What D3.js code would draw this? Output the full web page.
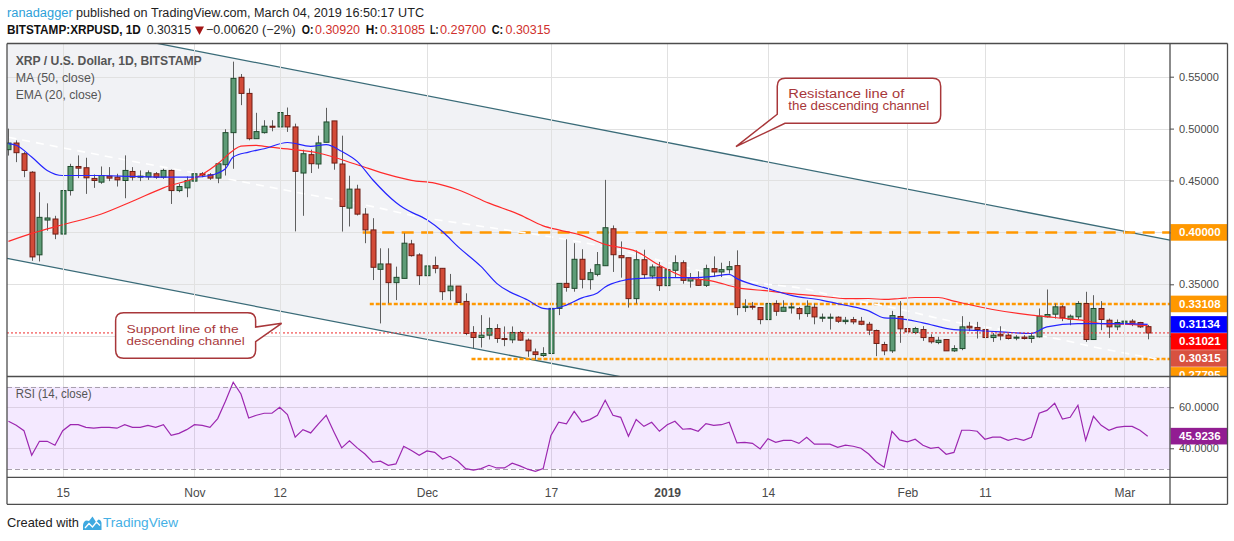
<!DOCTYPE html>
<html>
<head>
<meta charset="utf-8">
<script src="https://cdn.jsdelivr.net/npm/d3@7"></script>
<style>
  body { margin: 0; background: #fff; }
  svg { display: block; font-family: "Liberation Sans", Arial, sans-serif; }
</style>
</head>
<body>
<svg id="chart" width="1234" height="541"></svg>
<script>
// daily candles, first one is startDay, one per calendar day
const startDay = "2018-10-08";
const opens = [0.4797,0.4861,0.4758,0.4580,0.3784,0.4119,0.4129,0.3984,0.4403,0.4635,
  0.4623,0.4520,0.4484,0.4542,0.4532,0.4500,0.4587,0.4532,0.4535,0.4565,
  0.4532,0.4597,0.4403,0.4429,0.4494,0.4565,0.4555,0.4523,0.4652,0.4961,
  0.5494,0.5339,0.4903,0.4961,0.5023,0.5016,0.5126,0.5016,0.4572,0.4749,
  0.4659,0.4868,0.5074,0.4659,0.4234,0.4417,0.4176,0.4024,0.3644,0.3696,
  0.3516,0.3557,0.3889,0.3783,0.3583,0.3680,0.3654,0.3438,0.3483,0.3335,
  0.3036,0.2988,0.3010,0.3074,0.2978,0.2965,0.3036,0.2962,0.2849,0.2814,
  0.2833,0.3268,0.3509,0.3461,0.3741,0.3545,0.3596,0.3679,0.4035,0.3776,
  0.3756,0.3362,0.3737,0.3580,0.3667,0.3487,0.3635,0.3708,0.3532,0.3545,
  0.3490,0.3651,0.3619,0.3641,0.3680,0.3276,0.3289,0.3276,0.3160,0.3314,
  0.3240,0.3276,0.3266,0.3218,0.3279,0.3173,0.3176,0.3183,0.3141,0.3160,
  0.3144,0.3115,0.3055,0.2920,0.2859,0.3190,0.3074,0.3035,0.3064,0.2987,
  0.2939,0.2968,0.2859,0.2881,0.3096,0.3084,0.3064,0.2987,0.3019,0.3010,
  0.2981,0.2991,0.2978,0.2994,0.3187,0.3212,0.3283,0.3164,0.3187,0.3315,
  0.2968,0.3267,0.3154,0.3090,0.3125,0.3145,0.3132,0.3092];
const highs = [0.5000,0.4887,0.4774,0.4590,0.4387,0.4280,0.4160,0.4661,0.4661,0.4742,
  0.4719,0.4558,0.4635,0.4629,0.4565,0.4742,0.4629,0.4597,0.4597,0.4581,
  0.4613,0.4606,0.4468,0.4539,0.4613,0.4581,0.4571,0.4668,0.4994,0.5645,
  0.5526,0.5387,0.5152,0.5081,0.5081,0.5258,0.5203,0.5048,0.4797,0.4797,
  0.4932,0.5200,0.5074,0.4932,0.4546,0.4459,0.4234,0.4137,0.3847,0.3847,
  0.3670,0.3992,0.3928,0.3799,0.3751,0.3767,0.3654,0.3600,0.3483,0.3413,
  0.3097,0.3203,0.3180,0.3116,0.3094,0.3094,0.3052,0.2978,0.2881,0.2894,
  0.3364,0.3509,0.3934,0.3896,0.3838,0.3650,0.3811,0.4506,0.4067,0.3913,
  0.3756,0.3827,0.3833,0.3692,0.3715,0.3641,0.3779,0.3731,0.3609,0.3625,
  0.3689,0.3769,0.3708,0.3724,0.3827,0.3356,0.3330,0.3276,0.3394,0.3346,
  0.3346,0.3321,0.3282,0.3346,0.3314,0.3218,0.3218,0.3192,0.3186,0.3186,
  0.3186,0.3138,0.3064,0.2946,0.3244,0.3338,0.3097,0.3090,0.3097,0.3019,
  0.2994,0.2968,0.2913,0.3193,0.3138,0.3138,0.3084,0.3032,0.3096,0.3026,
  0.3010,0.3010,0.3026,0.3267,0.3450,0.3315,0.3299,0.3209,0.3338,0.3428,
  0.3395,0.3338,0.3170,0.3161,0.3235,0.3164,0.3138,0.31085];
const lows = [0.4740,0.4677,0.4532,0.3726,0.3720,0.4016,0.3935,0.3887,0.4355,0.4523,
  0.4371,0.4429,0.4468,0.4494,0.4442,0.4329,0.4500,0.4494,0.4506,0.4516,
  0.4516,0.4274,0.4387,0.4339,0.4484,0.4532,0.4506,0.4474,0.4548,0.4613,
  0.5226,0.4887,0.4903,0.4952,0.4974,0.4984,0.4968,0.4010,0.4160,0.4572,
  0.4614,0.4868,0.4604,0.4008,0.4057,0.4163,0.3896,0.3541,0.3123,0.3316,
  0.3348,0.3557,0.3767,0.3493,0.3532,0.3606,0.3348,0.3348,0.3326,0.3010,
  0.2881,0.2891,0.2968,0.2936,0.2904,0.2933,0.2955,0.2801,0.2775,0.2801,
  0.2817,0.3203,0.3429,0.3429,0.3461,0.3449,0.3577,0.3679,0.3619,0.3564,
  0.3276,0.3314,0.3554,0.3554,0.3436,0.3449,0.3564,0.3506,0.3468,0.3487,
  0.3474,0.3570,0.3570,0.3603,0.3202,0.3234,0.3256,0.3115,0.3160,0.3196,
  0.3240,0.3218,0.3160,0.3186,0.3115,0.3138,0.3064,0.3128,0.3115,0.3115,
  0.3106,0.3010,0.2808,0.2817,0.2839,0.2936,0.2936,0.3019,0.2955,0.2929,
  0.2923,0.2859,0.2849,0.2865,0.3048,0.2978,0.2978,0.2945,0.2961,0.2968,
  0.2961,0.2968,0.2936,0.2987,0.3180,0.3170,0.3145,0.3106,0.3164,0.2945,
  0.2968,0.3058,0.2984,0.3058,0.3097,0.3097,0.3080,0.2970];
const closes = [0.4861,0.4768,0.4597,0.3764,0.4145,0.4139,0.3984,0.4403,0.4635,0.4619,
  0.4526,0.4500,0.4548,0.4523,0.4506,0.4597,0.4532,0.4542,0.4574,0.4532,
  0.4597,0.4403,0.4442,0.4500,0.4565,0.4552,0.4523,0.4661,0.4961,0.5484,
  0.5339,0.4903,0.4971,0.5023,0.5013,0.5155,0.5016,0.4588,0.4758,0.4662,
  0.4862,0.5064,0.4668,0.4250,0.4417,0.4176,0.4024,0.3664,0.3696,0.3516,
  0.3567,0.3896,0.3776,0.3583,0.3677,0.3654,0.3429,0.3483,0.3326,0.3026,
  0.2988,0.3010,0.3074,0.2978,0.2968,0.3036,0.2962,0.2859,0.2823,0.2833,
  0.3268,0.3509,0.3470,0.3741,0.3548,0.3612,0.3689,0.4045,0.3785,0.3756,
  0.3362,0.3737,0.3593,0.3667,0.3487,0.3641,0.3708,0.3538,0.3564,0.3490,
  0.3651,0.3619,0.3641,0.3670,0.3276,0.3289,0.3279,0.3160,0.3314,0.3240,
  0.3279,0.3282,0.3218,0.3289,0.3186,0.3183,0.3183,0.3144,0.3154,0.3138,
  0.3115,0.3058,0.2930,0.2859,0.3199,0.3071,0.3042,0.3074,0.2987,0.2946,
  0.2961,0.2859,0.2881,0.3090,0.3080,0.3064,0.2987,0.3010,0.3003,0.2978,
  0.2991,0.2978,0.3000,0.3193,0.3209,0.3283,0.3177,0.3193,0.3315,0.2968,
  0.3267,0.3161,0.3090,0.3132,0.3145,0.3125,0.3090,0.30315];
const rsiVals = [53.2,51.2,48.6,36.6,43.4,43.4,41.5,48.6,51.5,51.5,
  50.2,49.8,50.2,50.2,49.8,51.5,50.2,50.2,51.2,50.2,
  51.5,46.3,47.3,49.1,51.5,51.2,50.2,54.5,62.9,72.2,
  66.5,54.8,56.1,57.1,57.1,60.0,56.4,45.4,49.1,47.5,
  51.9,56.1,48.0,40.2,43.7,40.2,37.2,33.2,33.7,31.7,
  32.4,41.0,38.9,36.6,38.7,38.0,34.8,36.1,33.7,30.1,
  29.4,30.1,31.7,30.4,30.4,32.7,31.4,29.8,28.8,30.1,
  46.3,52.7,51.9,58.0,52.8,54.0,56.1,63.4,56.1,55.1,
  45.9,54.0,50.7,52.7,48.3,51.5,53.2,49.3,49.6,48.3,
  52.0,51.2,51.5,52.7,42.6,42.9,42.4,39.7,44.7,42.9,
  43.9,43.9,42.4,45.4,42.0,42.0,42.0,40.5,41.5,41.0,
  40.0,37.2,33.3,30.7,48.3,44.1,43.1,44.4,41.5,40.0,
  40.5,37.1,38.0,48.8,48.8,48.3,44.4,45.4,45.4,43.9,
  44.9,43.9,45.4,57.1,58.5,62.0,54.3,55.1,61.0,43.9,
  55.6,51.2,48.8,50.2,50.7,50.7,48.8,45.9236];

// MA (50)
const maDates = ["2018-10-08","2018-10-11","2018-10-15","2018-10-20","2018-10-24","2018-10-28",
  "2018-11-02","2018-11-04","2018-11-06","2018-11-07","2018-11-09","2018-11-10","2018-11-13","2018-11-17",
  "2018-11-22","2018-11-26","2018-11-29","2018-12-02","2018-12-05","2018-12-09","2018-12-13","2018-12-16",
  "2018-12-18","2018-12-21","2018-12-24","2018-12-28","2018-12-31","2019-01-03","2019-01-07","2019-01-10",
  "2019-01-14","2019-01-17","2019-01-21","2019-01-24","2019-01-27","2019-01-29","2019-01-31","2019-02-02",
  "2019-02-05","2019-02-07","2019-02-12","2019-02-17","2019-02-20","2019-02-24","2019-02-26","2019-03-01","2019-03-04"];
const maVals = [0.3913,0.3990,0.4074,0.4177,0.4300,0.4429,0.4558,0.4661,0.4790,0.4832,0.4839,0.4829,
  0.4804,0.4765,0.4652,0.4556,0.4501,0.4475,0.4411,0.4282,0.4169,0.4063,0.4024,0.3971,0.3885,0.3817,
  0.3683,0.3577,0.3529,0.3468,0.3436,0.3410,0.3385,0.3362,0.3363,0.3354,0.3363,0.3373,0.3373,0.3338,
  0.3257,0.3203,0.3180,0.3148,0.3122,0.3116,0.31021];

// EMA (20)
const emaDates = ["2018-10-08","2018-10-09","2018-10-11","2018-10-13","2018-10-15","2018-10-20","2018-10-24","2018-10-28",
  "2018-11-01","2018-11-03","2018-11-05","2018-11-06","2018-11-08","2018-11-10","2018-11-13","2018-11-16","2018-11-18",
  "2018-11-20","2018-11-22","2018-11-24","2018-11-27","2018-11-28","2018-12-01","2018-12-03","2018-12-05","2018-12-08",
  "2018-12-10","2018-12-14","2018-12-16","2018-12-17","2018-12-19","2018-12-21","2018-12-23","2018-12-24","2018-12-26",
  "2018-12-28","2019-01-01","2019-01-04","2019-01-07","2019-01-09","2019-01-10","2019-01-14","2019-01-17","2019-01-21",
  "2019-01-24","2019-01-27","2019-01-29","2019-01-31","2019-02-03","2019-02-07","2019-02-09","2019-02-13","2019-02-17",
  "2019-02-19","2019-02-23","2019-02-26","2019-03-01","2019-03-04"];
const emaVals = [0.4855,0.4839,0.4726,0.4597,0.4548,0.4548,0.4539,0.4532,0.4532,0.4548,0.4613,0.4726,
  0.4774,0.4806,0.4866,0.4829,0.4845,0.4781,0.4684,0.4507,0.4288,0.4234,0.4121,0.4008,0.3863,0.3670,
  0.3509,0.3348,0.3268,0.3261,0.3300,0.3369,0.3417,0.3474,0.3532,0.3555,0.3564,0.3564,0.3577,0.3596,
  0.3555,0.3458,0.3394,0.3346,0.3298,0.3244,0.3177,0.3170,0.3129,0.3064,0.3058,0.3042,0.3026,0.3090,
  0.3122,0.3122,0.3122,0.31134];

// faint white dashed curve
const curveDates = ["2018-10-08","2018-10-30","2018-11-06","2018-11-16","2018-11-24","2018-12-01","2018-12-04",
  "2018-12-22","2019-01-13","2019-01-19","2019-01-22","2019-01-31","2019-02-07","2019-02-15","2019-02-20",
  "2019-02-26","2019-03-06"];
const curveVals = [0.4916,0.4601,0.4504,0.4360,0.4248,0.4136,0.4103,0.3890,0.3510,0.3452,0.3397,0.3260,
  0.3139,0.3043,0.2979,0.2882,0.2770];

// descending channel anchors
const resDates = ["2018-10-27T03:00", "2019-03-06T18:00"];
const resPrices = [0.5822, 0.3927];
const supDates = ["2018-10-07T18:30", "2018-12-20T18:00"];
const supPrices = [0.3750, 0.2685];

// horizontal levels
const levelPrices = [0.40, 0.33108, 0.27795];
const levelStarts = ["2018-11-22T17:00", "2018-11-23T15:00", "2018-12-06T18:00"];
const lastPrice = 0.30315;

// price scale labels
const tickPrices = [0.55, 0.50, 0.45, 0.40, 0.35, 0.30];
const markValues = [0.40000, 0.33108, 0.31134, 0.31021, 0.30315, 0.27795];
const markColors = ["#ff9800", "#ff9800", "#0000ff", "#ff0000", "#d85140", "#ff9800"];
const rsiTicks = [60, 40];
const rsiBands = [70, 30];
const rsiLast = 45.9236;

const tickDates = ["2018-10-15","2018-11-01","2018-11-12","2018-12-01","2018-12-17",
  "2019-01-01","2019-01-14","2019-02-01","2019-02-11","2019-03-01"];
const tickLabels = ["15","Nov","12","Dec","17","2019","14","Feb","11","Mar"];

const calloutTexts = [["Resistance line of", "the descending channel"], ["Support line of the", "descending channel"]];
const calloutTips = [["2019-01-09T21:00", 0.4826], ["2018-11-12T06:00", 0.3124]];

// ---------------------------------------------------------------
const svg = d3.select('#chart');
const L = 7, R = 1170, RR = 1227.5;
const mainTop = 43.5, mainBot = 376.5, rsiBot = 477.3, axisBot = 504.3;
const day = 864e5;
const toDate = s => new Date(Date.parse(s.length > 10 ? s + ":00Z" : s + "T00:00Z"));
const t0 = toDate(startDay).getTime();

const candles = opens.map((o, i) => ({
  date: new Date(t0 + i * day), o, h: highs[i], l: lows[i], c: closes[i], rsi: rsiVals[i]
}));

const xScale = d3.scaleUtc()
  .domain([new Date(t0 - 0.187 * day), new Date(t0 + 149.88 * day)])
  .range([L, R]);
const yScale = d3.scaleLinear().domain([0.26118, 0.58198]).range([mainBot, mainTop]);
const rScale = d3.scaleLinear().domain([25.85, 75.02]).range([rsiBot, mainBot]);

const defs = svg.append('defs');
defs.append('clipPath').attr('id', 'clipMain')
  .append('rect').attr('x', L).attr('y', mainTop).attr('width', R - L).attr('height', mainBot - mainTop);
defs.append('clipPath').attr('id', 'clipRsi')
  .append('rect').attr('x', L).attr('y', mainBot).attr('width', R - L).attr('height', rsiBot - mainBot);
defs.append('clipPath').attr('id', 'clipAxis')
  .append('rect').attr('x', R).attr('y', mainTop).attr('width', RR - R).attr('height', mainBot - mainTop);

// header
function htext(x, y, s, len, fill, weight) {
  return svg.append('text').attr('x', x).attr('y', y).text(s)
    .attr('font-size', 12.5).attr('fill', fill).attr('font-weight', weight || 'normal')
    .attr('textLength', len).attr('lengthAdjust', 'spacingAndGlyphs');
}
htext(7, 16.5, 'ranadagger', 65.7, '#2d9fd9');
htext(76, 16.5, 'published on TradingView.com, March 04, 2019 16:50:17 UTC', 348, '#1e1e1e');
htext(7, 34, 'BITSTAMP:XRPUSD, 1D', 133.7, '#111', 'bold');
htext(146.7, 34, '0.30315', 44.3, '#1e1e1e');
svg.append('path').attr('d', 'M195,26.5 L204,26.5 L199.5,35 Z').attr('fill', '#a31515');
htext(206, 34, '\u22120.00620 (\u22122%)', 89.7, '#1e1e1e');
const red = '#d0312d';
htext(301.7, 34, 'O:', 11.7, '#111', 'bold');
htext(315, 34, '0.30920', 45, red);
htext(365.7, 34, 'H:', 12.5, '#111', 'bold');
htext(380, 34, '0.31085', 45, red);
htext(430, 34, 'L:', 8.5, '#111', 'bold');
htext(440, 34, '0.29700', 46, red);
htext(491.7, 34, 'C:', 11.5, '#111', 'bold');
htext(505.5, 34, '0.30315', 45, red);

// main pane
const main = svg.append('g').attr('clip-path', 'url(#clipMain)');

const resP = resDates.map((d, i) => [xScale(toDate(d)), yScale(resPrices[i])]);
const supP = supDates.map((d, i) => [xScale(toDate(d)), yScale(supPrices[i])]);
const extend = (p, x) => p[0][1] + (p[1][1] - p[0][1]) * (x - p[0][0]) / (p[1][0] - p[0][0]);

main.append('polygon')
  .attr('points', [[L, extend(resP, L)], [R, extend(resP, R)], [R, extend(supP, R)], [L, extend(supP, L)]].join(' '))
  .attr('fill', '#f1f2f5');

// grid
main.append('g').selectAll('line').data(tickPrices).join('line')
  .attr('x1', L).attr('x2', R)
  .attr('y1', d => Math.round(yScale(d)) + 0.5).attr('y2', d => Math.round(yScale(d)) + 0.5)
  .attr('stroke', '#e1e1e1');
svg.append('g').selectAll('line').data(tickDates).join('line')
  .attr('x1', d => Math.round(xScale(toDate(d))) + 0.5).attr('x2', d => Math.round(xScale(toDate(d))) + 0.5)
  .attr('y1', mainTop).attr('y2', mainBot)
  .attr('stroke', '#e1e1e1');

// channel lines
[resP, supP].forEach(p => {
  main.append('line')
    .attr('x1', L).attr('y1', extend(p, L)).attr('x2', R).attr('y2', extend(p, R))
    .attr('stroke', '#3a6b78').attr('stroke-width', 1.3);
});

// orange levels
levelPrices.forEach((v, i) => {
  main.append('line')
    .attr('x1', xScale(toDate(levelStarts[i]))).attr('x2', R)
    .attr('y1', yScale(v)).attr('y2', yScale(v))
    .attr('stroke', '#ff9800').attr('stroke-width', 2.5)
    .attr('stroke-dasharray', i === 0 ? '12,7.5' : '4,2');
});

// white dashed curve
const curveLine = d3.line().x(d => xScale(d[0])).y(d => yScale(d[1])).curve(d3.curveMonotoneX);
main.append('path')
  .attr('d', curveLine(curveDates.map((d, i) => [toDate(d), curveVals[i]])))
  .attr('fill', 'none').attr('stroke', '#ffffff').attr('stroke-width', 1.6)
  .attr('stroke-dasharray', '8,6');

// candles
const cg = main.append('g');
cg.selectAll('line').data(candles).join('line')
  .attr('x1', d => Math.round(xScale(d.date)) + 0.5).attr('x2', d => Math.round(xScale(d.date)) + 0.5)
  .attr('y1', d => yScale(d.h)).attr('y2', d => yScale(d.l))
  .attr('stroke', '#5f5f5f').attr('stroke-width', 1);
cg.selectAll('rect').data(candles).join('rect')
  .attr('x', d => Math.round(xScale(d.date)) - 2)
  .attr('y', d => yScale(Math.max(d.o, d.c)))
  .attr('width', 5)
  .attr('height', d => Math.max(1, Math.abs(yScale(d.o) - yScale(d.c))))
  .attr('fill', d => d.c >= d.o ? '#5e9c77' : '#d24b38')
  .attr('stroke', d => d.c >= d.o ? '#1f4b2d' : '#6e1d14')
  .attr('stroke-width', 1);

// moving averages
main.append('path')
  .attr('d', curveLine(maDates.map((d, i) => [toDate(d), maVals[i]])))
  .attr('fill', 'none').attr('stroke', '#ff2b2b').attr('stroke-width', 1.2);
main.append('path')
  .attr('d', curveLine(emaDates.map((d, i) => [toDate(d), emaVals[i]])))
  .attr('fill', 'none').attr('stroke', '#2525ff').attr('stroke-width', 1.2);

// last price line
main.append('line')
  .attr('x1', L).attr('x2', R).attr('y1', yScale(lastPrice)).attr('y2', yScale(lastPrice))
  .attr('stroke', '#ee2b2b').attr('stroke-dasharray', '2,2');

// legend
const legend = [['XRP / U.S. Dollar, 1D, BITSTAMP', 65, 186, 'bold'], ['MA (50, close)', 82, 79.3, 'normal'], ['EMA (20, close)', 99, 86, 'normal']];
legend.forEach(r => {
  svg.append('text').attr('x', 15.7).attr('y', r[1]).text(r[0])
    .attr('font-size', 13).attr('font-weight', r[3]).attr('fill', '#555')
    .attr('textLength', r[2]).attr('lengthAdjust', 'spacingAndGlyphs');
});

// callouts
const cRed = '#a8373a';
{
  const tx = xScale(toDate(calloutTips[0][0])), ty = yScale(calloutTips[0][1]);
  const x0 = tx + 41.3, y0 = ty - 68.4, x1 = x0 + 163.4, y1 = y0 + 45, r = 8;
  svg.append('path')
    .attr('d', `M${x0 + r},${y0} H${x1 - r} Q${x1},${y0} ${x1},${y0 + r} V${y1 - r} Q${x1},${y1} ${x1 - r},${y1} H${x0 + 7.7} L${tx},${ty} L${x0},${y0 + 36} V${y0 + r} Q${x0},${y0} ${x0 + r},${y0} Z`)
    .attr('fill', '#fff').attr('stroke', cRed).attr('stroke-width', 1.5);
  const lens = [116, 141];
  calloutTexts[0].forEach((s, i) => svg.append('text').attr('x', x0 + 11).attr('y', y0 + 19.4 + i * 12.5)
    .text(s).attr('font-size', 12).attr('fill', cRed)
    .attr('textLength', lens[i]).attr('lengthAdjust', 'spacingAndGlyphs'));
}
{
  const tx = xScale(toDate(calloutTips[1][0])), ty = yScale(calloutTips[1][1]);
  const x1 = tx - 26, x0 = x1 - 140, y0 = ty - 10.6, y1 = y0 + 45.6, r = 8;
  svg.append('path')
    .attr('d', `M${x0 + r},${y0} H${x1 - r} Q${x1},${y0} ${x1},${y0 + r} V${y0 + 14.3} L${tx},${ty} L${x1},${y0 + 29} V${y1 - r} Q${x1},${y1} ${x1 - r},${y1} H${x0 + r} Q${x0},${y1} ${x0},${y1 - r} V${y0 + r} Q${x0},${y0} ${x0 + r},${y0} Z`)
    .attr('fill', '#fff').attr('stroke', cRed).attr('stroke-width', 1.5);
  const lens = [112, 118];
  calloutTexts[1].forEach((s, i) => svg.append('text').attr('x', x0 + 11).attr('y', y0 + 19.8 + i * 12.2)
    .text(s).attr('font-size', 11.5).attr('fill', cRed)
    .attr('textLength', lens[i]).attr('lengthAdjust', 'spacingAndGlyphs'));
}

// RSI pane
const rsiG = svg.append('g').attr('clip-path', 'url(#clipRsi)');
rsiG.append('g').selectAll('line').data(tickDates).join('line')
  .attr('x1', d => Math.round(xScale(toDate(d))) + 0.5).attr('x2', d => Math.round(xScale(toDate(d))) + 0.5)
  .attr('y1', mainBot).attr('y2', rsiBot).attr('stroke', '#e1e1e1');
rsiG.append('rect')
  .attr('x', L).attr('width', R - L)
  .attr('y', rScale(rsiBands[0])).attr('height', rScale(rsiBands[1]) - rScale(rsiBands[0]))
  .attr('fill', 'rgba(153,51,255,0.11)');
rsiG.append('g').selectAll('line').data(rsiTicks).join('line')
  .attr('x1', L).attr('x2', R)
  .attr('y1', d => Math.round(rScale(d)) + 0.5).attr('y2', d => Math.round(rScale(d)) + 0.5)
  .attr('stroke', '#dcd0e4');
rsiG.append('g').selectAll('line').data(rsiBands).join('line')
  .attr('x1', L).attr('x2', R)
  .attr('y1', d => Math.round(rScale(d)) + 0.5).attr('y2', d => Math.round(rScale(d)) + 0.5)
  .attr('stroke', '#a8a0ad').attr('stroke-dasharray', '5,3');
rsiG.append('path')
  .attr('d', d3.line().x(d => xScale(d.date)).y(d => rScale(d.rsi))(candles))
  .attr('fill', 'none').attr('stroke', '#9c27b0').attr('stroke-width', 1.2);
svg.append('text').attr('x', 15.7).attr('y', 398).text('RSI (14, close)')
  .attr('font-size', 12.5).attr('fill', '#555')
  .attr('textLength', 76).attr('lengthAdjust', 'spacingAndGlyphs');

// stacked price marks (computed first so covered tick labels can be skipped)
const marks = markValues.map((v, i) => ({v, color: markColors[i], y: yScale(v)}))
  .sort((a, b) => a.y - b.y);
marks.forEach((m, i) => { if (i > 0 && m.y < marks[i - 1].y + 17) m.y = marks[i - 1].y + 17; });
const covered = v => marks.some(m => Math.abs(m.y - yScale(v)) < 15);

// price axis
const axisFont = g => g.attr('font-family', '"Liberation Sans", Arial, sans-serif').attr('font-size', 11);
svg.append('g').attr('transform', `translate(${R},0)`)
  .call(d3.axisRight(yScale).tickValues(tickPrices).tickFormat(d3.format('.5f')).tickSize(4).tickPadding(5))
  .call(axisFont)
  .call(g => g.select('.domain').remove())
  .call(g => g.selectAll('text').attr('fill', '#4a4a4a'))
  .call(g => g.selectAll('.tick').filter(d => covered(d)).select('text').remove())
  .call(g => g.selectAll('line').attr('stroke', '#4a4a4a'));

const mg = svg.append('g').attr('clip-path', 'url(#clipAxis)');
mg.selectAll('rect').data(marks).join('rect')
  .attr('x', R + 0.5).attr('y', d => d.y - 8.3).attr('width', RR - R - 0.5).attr('height', 16.6)
  .attr('fill', d => d.color);
mg.selectAll('text').data(marks).join('text')
  .attr('x', R + 9).attr('y', d => d.y + 4).text(d => d3.format('.5f')(d.v))
  .attr('font-size', 11.5).attr('font-weight', 'bold').attr('fill', '#fff');

// RSI axis
svg.append('g').attr('transform', `translate(${R},0)`)
  .call(d3.axisRight(rScale).tickValues(rsiTicks).tickFormat(d3.format('.4f')).tickSize(4).tickPadding(5))
  .call(axisFont)
  .call(g => g.select('.domain').remove())
  .call(g => g.selectAll('text').attr('fill', '#4a4a4a'))
  .call(g => g.selectAll('line').attr('stroke', '#4a4a4a'));
svg.append('rect').attr('x', R + 0.5).attr('y', rScale(rsiLast) - 8.3)
  .attr('width', RR - R - 0.5).attr('height', 16.6).attr('fill', '#921d92');
svg.append('text').attr('x', R + 9).attr('y', rScale(rsiLast) + 4).text(d3.format('.4f')(rsiLast))
  .attr('font-size', 11.5).attr('font-weight', 'bold').attr('fill', '#fff');

// time axis
svg.append('g').attr('transform', `translate(0,${rsiBot})`)
  .call(d3.axisBottom(xScale).tickValues(tickDates.map(toDate)).tickFormat((d, i) => tickLabels[i])
    .tickSize(0).tickPadding(10.7))
  .call(g => g.attr('font-family', '"Liberation Sans", Arial, sans-serif').attr('font-size', 12))
  .call(g => g.select('.domain').remove())
  .call(g => g.selectAll('text').attr('fill', '#4a4a4a')
    .attr('font-weight', (d, i) => tickLabels[i] === '2019' ? 'bold' : 'normal'));

// frame
const frame = [[L, mainTop, RR, mainTop], [L, mainBot, RR, mainBot], [L, rsiBot, RR, rsiBot], [L, axisBot, RR, axisBot],
  [L, mainTop, L, axisBot], [R, mainTop, R, axisBot], [RR, mainTop, RR, axisBot]];
svg.append('g').selectAll('line').data(frame).join('line')
  .attr('x1', d => d[0]).attr('y1', d => d[1]).attr('x2', d => d[2]).attr('y2', d => d[3])
  .attr('stroke', '#4d4d4d').attr('stroke-width', 1.3);

// footer
svg.append('text').attr('x', 7).attr('y', 527).text('Created with')
  .attr('font-size', 13).attr('fill', '#222')
  .attr('textLength', 72).attr('lengthAdjust', 'spacingAndGlyphs');
svg.append('path')
  .attr('d', 'M83,530 L83,525 Q84,519 89,521 L92.5,516.5 L96,522 L98.5,519.5 Q102,520 101.5,525 L101.5,530 Z')
  .attr('fill', '#3fa9e0');
svg.append('path').attr('d', 'M85,528 L89,523.5 L92.5,527 L96.5,522 L100,525.5')
  .attr('fill', 'none').attr('stroke', '#fff').attr('stroke-width', 1.3);
svg.append('text').attr('x', 103).attr('y', 527).text('TradingView')
  .attr('font-size', 13).attr('fill', '#45b0e5')
  .attr('textLength', 75).attr('lengthAdjust', 'spacingAndGlyphs');
</script>
</body>
</html>
